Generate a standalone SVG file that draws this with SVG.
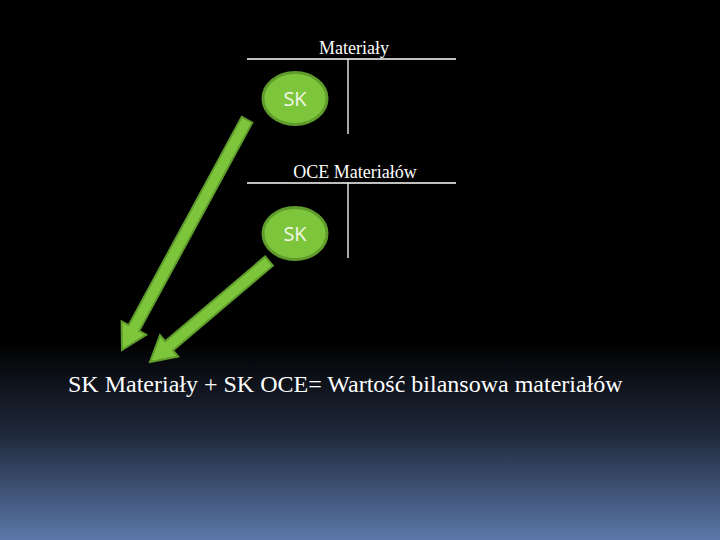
<svg xmlns="http://www.w3.org/2000/svg" width="720" height="540" viewBox="0 0 720 540">
<defs>
<linearGradient id="bg" x1="0" y1="0" x2="0" y2="540" gradientUnits="userSpaceOnUse">
<stop offset="0" stop-color="#000"/>
<stop offset="0.63" stop-color="#000"/>
<stop offset="0.8" stop-color="#1e2739"/>
<stop offset="1" stop-color="#5b78a9"/>
</linearGradient>
<style>
.t{fill:#fff;font-family:"Liberation Serif","Times New Roman",serif}
.ln{stroke:#fff;stroke-width:1.3;fill:none}
.node ellipse{fill:#7dc63c;stroke:#5f9c2c;stroke-width:3}
.node text{fill:#f2f7e8;font-family:"Open Sans","DejaVu Sans",sans-serif;font-size:20px;text-anchor:middle}
.arr{fill:#7dc63c;stroke:#5f9c2c;stroke-width:2;stroke-linejoin:miter}
</style>
</defs>
<rect width="720" height="540" fill="url(#bg)"/>
<g id="taccount1">
<text class="t" x="354" y="54" font-size="18" text-anchor="middle">Materiały</text>
<line class="ln" x1="247" y1="59" x2="456" y2="59"/>
<line class="ln" x1="348" y1="59" x2="348" y2="134"/>
</g>
<g id="taccount2">
<text class="t" x="355" y="178" font-size="18" text-anchor="middle">OCE Materiałów</text>
<line class="ln" x1="247" y1="183" x2="456" y2="183"/>
<line class="ln" x1="348" y1="183" x2="348" y2="258"/>
</g>
<g id="sk1" class="node">
<ellipse cx="295" cy="98.5" rx="32" ry="26"/>
<text x="295" y="106">SK</text>
</g>
<g id="sk2" class="node">
<ellipse cx="295" cy="233.5" rx="32" ry="26"/>
<text x="295" y="241">SK</text>
</g>
<g id="connectors">
<polygon class="arr" transform="translate(122,350) rotate(118.5)" points="0,0 -25,-14 -25,-6 -262,-6 -262,6 -25,6 -25,14"/>
<polygon class="arr" transform="translate(150,362) rotate(139.7)" points="0,0 -25,-14 -25,-6 -156,-6 -156,6 -25,6 -25,14"/>
</g>
<text id="formula" class="t" x="68" y="392" font-size="24">SK Materiały + SK OCE= Wartość bilansowa materiałów</text>
</svg>
